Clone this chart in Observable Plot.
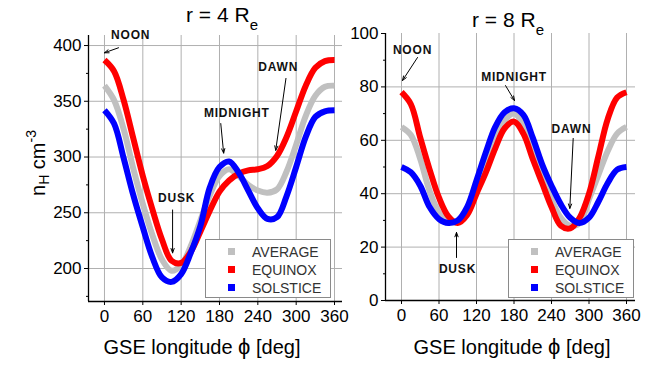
<!DOCTYPE html>
<html><head><meta charset="utf-8">
<script src="https://cdn.jsdelivr.net/npm/d3@7"></script>
<script src="https://cdn.jsdelivr.net/npm/@observablehq/plot@0.6"></script>
<style>
body{margin:0;background:#fff;font-family:"Liberation Sans",Arial,sans-serif;}
#wrap{position:relative;width:663px;height:365px;overflow:hidden;background:#fff;}
#wrap svg{position:absolute;top:0;overflow:visible;}
.abs{position:absolute;white-space:nowrap;color:#000;}
.title{font-size:21px;line-height:21px;transform:translateX(-50%);}
.title .sub{font-size:15px;position:relative;top:8px;}
.xlab{font-size:20px;line-height:20px;transform:translateX(-50%);}
.xlab .phi{font-size:22px;}
.ylab{font-size:20px;line-height:20px;transform:translate(-50%,-50%) rotate(-90deg);}
.ylab sub{font-size:14px;vertical-align:-4px;}
.ylab sup{font-size:14px;vertical-align:9px;}
.legend{border:1px solid #8a8a8a;background:#fff;width:124px;height:57px;}
.legend .row{position:absolute;left:0;height:18px;line-height:18px;font-size:14px;color:#333;}
.legend .sw{position:absolute;width:7px;height:7px;top:5px;}
.legend .lt{position:absolute;left:46px;}
g[aria-label="text"] text{letter-spacing:0.8px;}
</style></head><body><div id="wrap"></div>
<script>
// ---- data ----
const series = ["AVERAGE", "EQUINOX", "SOLSTICE"];
const colors = ["#c0c0c0", "#ff0000", "#0000ff"];
const phi = [0, 15, 30, 45, 60, 75, 90, 105, 120, 135, 150, 165, 180, 195, 210, 225, 240, 255, 270, 285, 300, 315, 330, 345, 360];

// r = 4 Re
const average4  = [364, 351, 325, 290, 258, 230, 208, 198, 203, 220, 243, 266, 283, 289, 283, 275, 270, 268, 271, 287, 311, 337, 355, 363, 364];
const equinox4  = [387, 377, 351, 317, 283, 253, 226, 207, 205, 215, 233, 252, 269, 279, 285, 288, 289, 292, 301, 318, 341, 364, 380, 386, 387];
const solstice4 = [342, 330, 299, 266, 237, 210, 192, 188, 195, 214, 238, 273, 291, 296, 286, 270, 254, 244.5, 246, 265, 291, 318, 336, 341, 342];

// r = 8 Re
const average8  = [65, 62, 53, 41, 33, 29.5, 29.5, 33, 42, 52, 61, 67.5, 70, 66, 57, 47, 38, 31, 28, 29, 38, 47, 56, 62.5, 65];
const equinox8  = [78, 73.5, 61, 49, 38.5, 31.5, 29, 32, 40, 48, 57, 64.5, 67, 62.5, 53, 44, 35, 28, 27, 31, 40, 54, 68, 76, 78];
const solstice8 = [50, 48, 43, 35, 30.5, 29, 30, 35, 45, 55.5, 65, 70.5, 72, 69.5, 61, 51, 43, 36, 31, 29, 31, 37, 44, 49, 50];

const xTicks = [0, 60, 120, 180, 240, 300, 360];
const yTicks4 = [200, 250, 300, 350, 400];
const yMinor4 = [175, 225, 275, 325, 375];
const yGrid4 = [200, 250, 300, 350, 400];
const yTicks8 = [0, 20, 40, 60, 80, 100];
const yMinor8 = [10, 30, 50, 70, 90];
const yGrid8 = [20, 40, 60, 80];

// annotations: label position (tx,ty), arrow from (ax1,ay1) to (ax2,ay2)
const noteLabels = ["NOON", "MIDNIGHT", "DAWN", "DUSK"];
const notes4Text  = [[41, 409], [207, 339.5], [272, 380.5], [113, 263]];
const notes4Arrow = [[22, 398, 0, 393.5], [182, 330, 186.5, 303.5], [284, 370.5, 268, 306], [106.6, 252.5, 106.6, 214]];
const notes8Text  = [[17.6, 93.6], [180, 83.5], [272, 64], [89.6, 11.6]];
const notes8Arrow = [[25.6, 91, 1.6, 82.4], [166.4, 80.5, 180.8, 74.9], [274.7, 60.7, 269.3, 34.5], [88, 16.1, 88, 25.5]];

// ---- drawing ----
const wrap = document.getElementById("wrap");

function panel(o) {
  const rows = [];
  series.forEach((s, i) => phi.forEach((p, j) => rows.push({series: s, phi: p, n: o.values[i][j]})));
  const notes = noteLabels.map((l, i) => ({label: l, tx: o.text[i][0], ty: o.text[i][1],
    ax1: o.arrow[i][0], ay1: o.arrow[i][1], ax2: o.arrow[i][2], ay2: o.arrow[i][3]}));
  const svg = Plot.plot({
    width: o.width, height: 365,
    marginLeft: o.ml, marginRight: o.mr, marginTop: o.mt, marginBottom: o.mb,
    x: {domain: o.xDomain},
    y: {domain: o.yDomain},
    color: {domain: series, range: colors},
    style: {fontFamily: "'Liberation Sans', Arial, sans-serif", fontSize: "17px", color: "#000", background: "transparent", overflow: "visible"},
    marks: [
      Plot.gridX(xTicks, {stroke: "#b0b0b0", strokeOpacity: 1, strokeWidth: 1}),
      Plot.gridY(o.grid, {stroke: "#b0b0b0", strokeOpacity: 1, strokeWidth: 1}),
      Plot.line(rows, {x: "phi", y: "n", stroke: "series", strokeWidth: 6, curve: "catmull-rom", strokeLinecap: "butt"}),
      Plot.ruleX([o.xDomain[0]], {stroke: "#000", strokeWidth: 1.3}),
      Plot.ruleY([o.yDomain[0]], {stroke: "#000", strokeWidth: 1.3}),
      Plot.axisX(xTicks, {tickSize: 4, tickPadding: 4, label: null}),
      Plot.axisY(o.yTicks, {tickSize: 4, tickPadding: 3, label: null}),
      Plot.axisY(o.yMinor, {tickSize: 2, text: null, label: null}),
      Plot.arrow(notes, {x1: "ax1", y1: "ay1", x2: "ax2", y2: "ay2", stroke: "#000", strokeWidth: 1, headLength: 7, headAngle: 40}),
      Plot.text(notes, {x: "tx", y: "ty", text: "label", fontSize: 12, fontWeight: "bold", fill: "#111"})
    ]
  });
  svg.style.left = o.left + "px";
  wrap.appendChild(svg);
}

panel({values: [average4, equinox4, solstice4], text: notes4Text, arrow: notes4Arrow,
  width: 350, left: 0, ml: 88, mr: 8, mt: 35, mb: 64,
  xDomain: [-25, 372.5], yDomain: [170.4, 409], yTicks: yTicks4, yMinor: yMinor4, grid: yGrid4});
panel({values: [average8, equinox8, solstice8], text: notes8Text, arrow: notes8Arrow,
  width: 333, left: 330, ml: 55, mr: 28, mt: 33, mb: 65,
  xDomain: [-25.6, 374.4], yDomain: [0, 100], yTicks: yTicks8, yMinor: yMinor8, grid: yGrid8});

function addDiv(cls, left, top, html) {
  const d = document.createElement("div");
  d.className = "abs " + cls;
  d.style.left = left + "px"; d.style.top = top + "px";
  d.innerHTML = html;
  wrap.appendChild(d);
  return d;
}
addDiv("title", 222, 4, 'r = 4 R<span class="sub">e</span>');
addDiv("title", 508, 9, 'r = 8 R<span class="sub">e</span>');
addDiv("xlab", 202, 337, 'GSE longitude <span class="phi">ϕ</span> [deg]');
addDiv("xlab", 512, 337, 'GSE longitude <span class="phi">ϕ</span> [deg]');
addDiv("ylab", 37, 163, 'n<sub>H</sub> cm<sup>-3</sup>');

function legend(left, top) {
  const box = addDiv("legend", left, top, "");
  series.forEach((s, i) => {
    const r = document.createElement("div");
    r.className = "row";
    r.style.top = (3 + i * 18) + "px";
    r.style.width = "124px";
    r.innerHTML = `<span class="sw" style="left:22px;background:${colors[i]}"></span><span class="lt">${s}</span>`;
    box.appendChild(r);
  });
}
legend(205, 239);
legend(508, 239);
</script></body></html>
